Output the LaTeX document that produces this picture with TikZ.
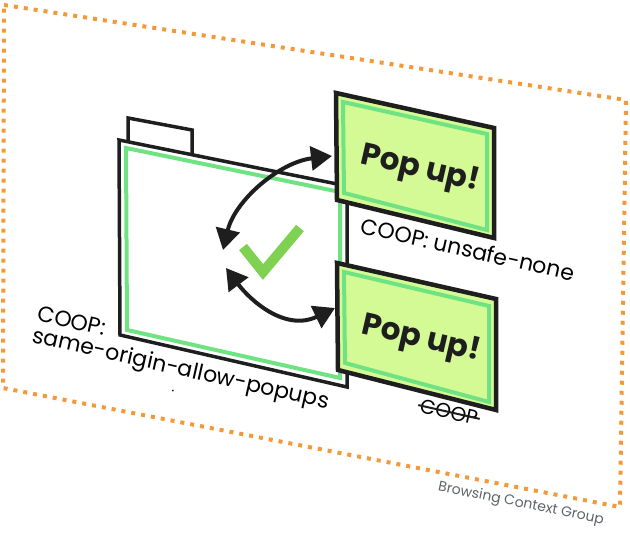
\documentclass[tikz,border=0pt]{standalone}
\usepackage{fontspec}
\setmainfont{Poppins}
\usetikzlibrary{arrows.meta}
\definecolor{orng}{HTML}{F4993A}
\definecolor{popfill}{HTML}{D4FA96}
\definecolor{band}{HTML}{6FE382}
\definecolor{chk}{HTML}{7ED151}
\definecolor{gtxt}{HTML}{5F6368}
\definecolor{ink}{HTML}{1E1E1E}
\begin{document}
\begin{tikzpicture}[x=1pt,y=1pt,
  bcg/.style={draw=orng, line width=4pt, dash pattern=on 4pt off 6pt},
  winframe/.style={draw=ink, line width=3.5pt, line join=miter},
  bandline/.style={draw=band, line width=4pt, line join=miter},
  popframe/.style={draw=ink, line width=4.5pt, fill=popfill, line join=miter},
  dblarrow/.style={draw=ink, line width=4pt, {Triangle[length=21pt,width=24pt]}-{Triangle[length=21pt,width=24pt]}},
  lbl/.style={font=\fontsize{22}{22}\selectfont, rotate=-12.7, inner sep=0pt, text=black},
  poptxt/.style={font=\bfseries\fontsize{31}{36}\selectfont, rotate=-13, inner sep=0pt, text=ink},
  grouplbl/.style={font=\fontsize{14}{16}\selectfont, rotate=-11.5, inner sep=0pt, text=gtxt}]
\useasboundingbox (0,0) rectangle (630,537);

% browsing context group border
\draw[bcg] (4,532) -- (626,437) -- (620,30) -- (3,149) -- cycle;

% opener window with tab
\draw[winframe, fill=white] (128,395) -- (128,419) -- (192,407) -- (192,382);
\draw[winframe] (119,397) -- (347,351) -- (347,150) -- (120,202) -- cycle;
\draw[bandline] (126,389) -- (340,345) -- (340,159) -- (127,207) -- cycle;

% popup 1
\draw[popframe] (336,444) -- (494,409) -- (494,299) -- (337,337) -- cycle;
\draw[bandline] (343,435) -- (487,403) -- (487,307) -- (344,344) -- cycle;
\node[poptxt] (pop1) at (420,367) {Pop up!};

% popup 2
\draw[popframe] (337,274) -- (496,238) -- (496,127) -- (338,167) -- cycle;
\draw[bandline] (344,265) -- (489,231) -- (489,135) -- (345,174) -- cycle;
\node[poptxt] (pop2) at (421,197) {Pop up!};

% arrows
\coordinate (a1s) at (223,287);
\coordinate (a1e) at (332,381);
\coordinate (a2s) at (226,269);
\coordinate (a2e) at (335,229);
\draw[dblarrow] (a1s) .. controls (235,337) and (280,375) .. (a1e);
\draw[dblarrow] (a2s) .. controls (250,237) and (285,205) .. (a2e);

% check mark
\draw[chk, line width=10pt, line join=miter] (243,290) -- (263,265) -- (300,309);

% labels
\node[lbl, align=left] (coopmain) at (183,177) {COOP:\\same-origin-allow-popups};
\node[lbl, font=\fontsize{14}{16}\selectfont] (dot) at (173,146) {.};
\node[lbl] (coopunsafe) at (468,288) {COOP: unsafe-none};
\node[lbl, font=\fontsize{20}{24}\selectfont] (strike) at (449,125) {COOP};
\draw[ink, line width=2pt] ([shift={(-12.7:-2pt)}]strike.west) -- ([shift={(-12.7:2pt)}]strike.east);
\node[grouplbl] (bcgl) at (521,33) {Browsing Context Group};
\end{tikzpicture}
\end{document}
